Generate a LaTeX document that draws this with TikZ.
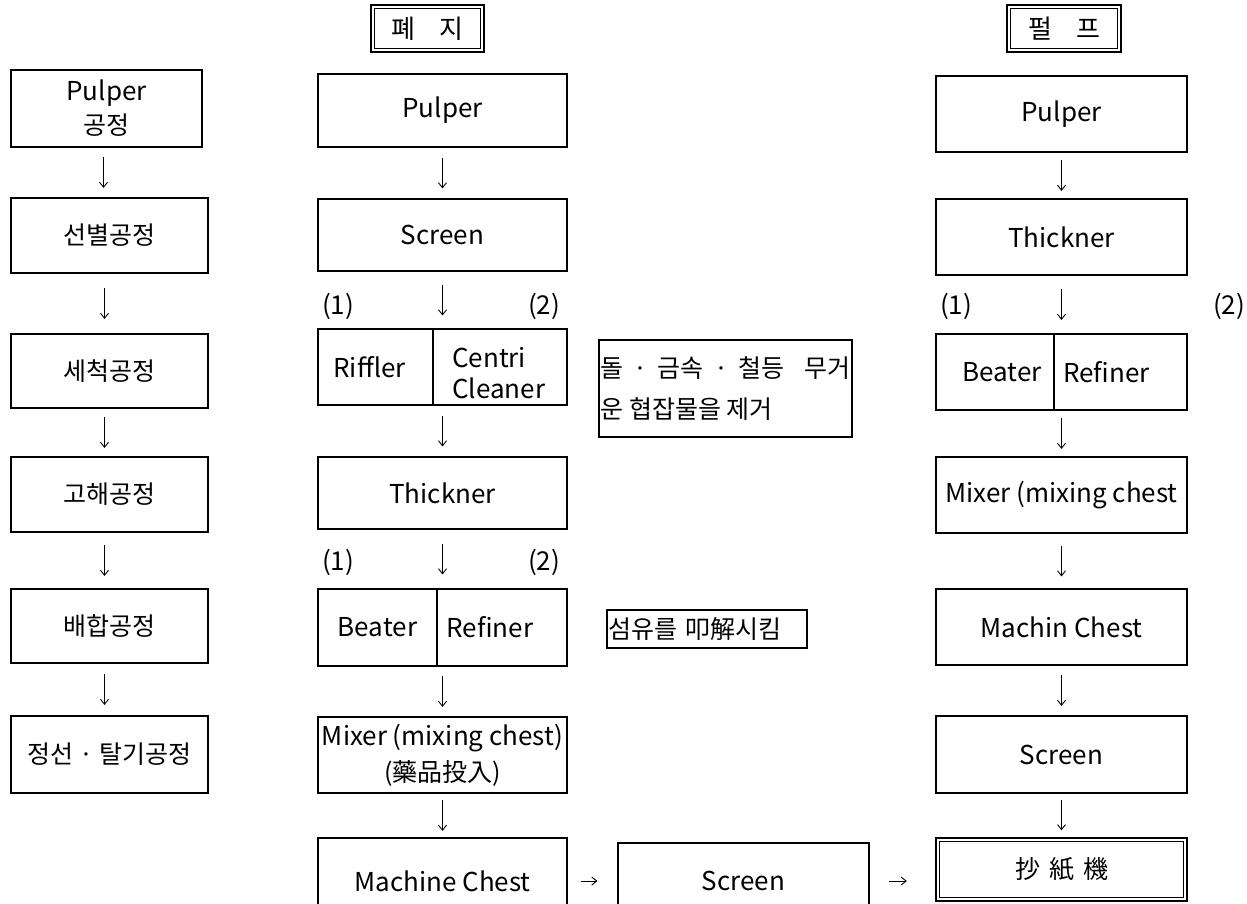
\documentclass[tikz,border=0pt]{standalone}
\usepackage{fontspec}
\setmainfont{Noto Sans CJK KR}
\usetikzlibrary{arrows.meta,calc}
\newcommand\latsz{\fontsize{26}{34}\selectfont}
\newcommand\korsz{\fontsize{25}{34}\selectfont}
\begin{document}
\begin{tikzpicture}[x=1pt,y=-1pt,
  box/.style={draw, line width=1.1pt, inner sep=0pt, align=center, font=\latsz},
  dbox/.style={box, line width=2.4pt},
  lbl/.style={inner sep=0pt, font=\latsz},
  arr/.style={-{Straight Barb[length=5pt,width=8pt]}, line width=0.9pt, shorten <=#1, shorten >=#1},
  arr/.default=10pt,
  colL/.style={box, minimum width=197},
  colM/.style={box, minimum width=249},
  colR/.style={box, minimum width=251},
]
\useasboundingbox (0,0) rectangle (1247,903);

% ---------- left column ----------
\node[box, minimum width=191, minimum height=77] (L1) at (106.5,108.5) {Pulper\\{\korsz 공정}};
\node[colL, minimum height=75, font=\korsz] (L2) at (109.5,235.5) {선별공정};
\node[colL, minimum height=74, font=\korsz] (L3) at (109.5,371) {세척공정};
\node[colL, minimum height=75, font=\korsz] (L4) at (109.5,494.5) {고해공정};
\node[colL, minimum height=74, font=\korsz] (L5) at (109.5,626) {배합공정};
\node[colL, minimum height=77, font=\korsz] (L6) at (109.5,754.5) {정선 · 탈기공정};

% ---------- middle column ----------
\node[dbox, minimum width=113, minimum height=47, font=\fontsize{26}{30}\selectfont] (wp) at (427.5,28.5) {폐\hspace{24pt}지};
\node[colM, minimum height=73] (M1) at (442.5,110.5) {Pulper};
\node[colM, minimum height=72] (M2) at (442.5,235) {Screen};
\node[box, minimum width=115, minimum height=76] (rif) at (375.5,367) {\hspace*{-12pt}Riffler};
\node[box, minimum width=134, minimum height=76] (cen) at (500,367) {};
\node[inner sep=0pt, anchor=west, align=left, font=\fontsize{26}{31}\selectfont] (cct) at (452,373) {Centri\\Cleaner};
\node[colM, minimum height=72] (M4) at (442.5,493) {Thickner};
\node[box, minimum width=119, minimum height=77] (bea) at (377.5,627.5) {Beater};
\node[box, minimum width=130, minimum height=77] (ref) at (502,627.5) {\hspace*{-24pt}Refiner};
\node[colM, minimum height=76, font=\fontsize{26}{36}\selectfont] (M6) at (442.5,755) {Mixer (mixing chest)\\{\korsz (藥品投入)}};
\node[colM, minimum height=86] (M7) at (442.5,881) {Machine Chest};

% notes
\node[box, minimum width=253, minimum height=97, align=left, font=\fontsize{25}{41}\selectfont] (n1) at (725.5,388.5)
  {\makebox[250pt][s]{돌 · 금속 · 철등 \ 무거}\\운 협잡물을 제거};
\node[box, minimum width=200, minimum height=38, text width=197pt, align=left, font=\korsz] (n2) at (707,629) {섬유를 叩解시킴};

\node[box, minimum width=251, minimum height=76] (S2) at (743.5,881) {Screen};

% ---------- right column ----------
\node[dbox, minimum width=114, minimum height=47, font=\fontsize{26}{30}\selectfont] (pp) at (1064,28.5) {펄\hspace{24pt}프};
\node[colR, minimum height=76] (R1) at (1061.5,114) {Pulper};
\node[colR, minimum height=76] (R2) at (1061.5,237) {Thickner};
\node[box, minimum width=118, minimum height=76] (rbea) at (995,372) {\hspace*{14pt}Beater};
\node[box, minimum width=133, minimum height=76] (rref) at (1120.5,372) {\hspace*{-28pt}Refiner};
\node[colR, minimum height=76] (R4) at (1061.5,495) {Mixer (mixing chest};
\node[colR, minimum height=76] (R5) at (1061.5,627) {Machin Chest};
\node[colR, minimum height=77] (R6) at (1061.5,754.5) {Screen};
\node[dbox, minimum width=251, minimum height=63, font=\korsz] (R7) at (1061.5,869.5) {抄\hspace{9pt}紙\hspace{9pt}機};

% inner lines of double boxes
\foreach \n in {wp,pp,R7}
  \draw[line width=0.8pt] ([xshift=4.5pt,yshift=-4.5pt]\n.north west) rectangle ([xshift=-4.5pt,yshift=4.5pt]\n.south east);

% labels (1) (2)
\node[lbl] (a1) at (338,306) {(1)};
\node[lbl] (a2) at (544,306) {(2)};
\node[lbl] (b1) at (338,562) {(1)};
\node[lbl] (b2) at (544,562) {(2)};
\node[lbl] (c1) at (956,306) {(1)};
\node[lbl] (c2) at (1229,306) {(2)};

% ---------- arrows ----------
\draw[arr=9.5pt] ([xshift=-3pt]L1.south) -- ([xshift=-3pt]L1.south |- L2.north);
\draw[arr=14.5pt] ([xshift=-5pt]L2.south) -- ([xshift=-5pt]L3.north);
\draw[arr=8.5pt] ([xshift=-5pt]L3.south) -- ([xshift=-5pt]L4.north);
\draw[arr=12.5pt] ([xshift=-5pt]L4.south) -- ([xshift=-5pt]L5.north);
\draw[arr=10.5pt] ([xshift=-5pt]L5.south) -- ([xshift=-5pt]L6.north);

\draw[arr=10pt] (M1) -- (M2);
\draw[arr=13pt] (M2) -- (M2 |- cen.north);
\draw[arr=10pt] (M4 |- cen.south) -- (M4);
\draw[arr=14pt] (M4) -- (M4 |- ref.north);
\draw[arr=9.5pt] (M6 |- ref.south) -- (M6);
\draw[arr=6.5pt] (M6) -- (M7);

\draw[arr=7.5pt] (R1) -- (R2);
\draw[arr=13.5pt] (R2) -- (R2 |- rref.north);
\draw[arr=7.5pt] (R4 |- rref.south) -- (R4);
\draw[arr=12pt] (R4) -- (R5);
\draw[arr=9.5pt] (R5) -- (R6);
\draw[arr=6.5pt] (R6) -- (R7);

\draw[arr, shorten <=13pt, shorten >=20pt] (M7) -- (S2);
\draw[arr, shorten <=19pt, shorten >=28pt] (S2.east) -- (S2.east -| R7.west);
\end{tikzpicture}
\end{document}
